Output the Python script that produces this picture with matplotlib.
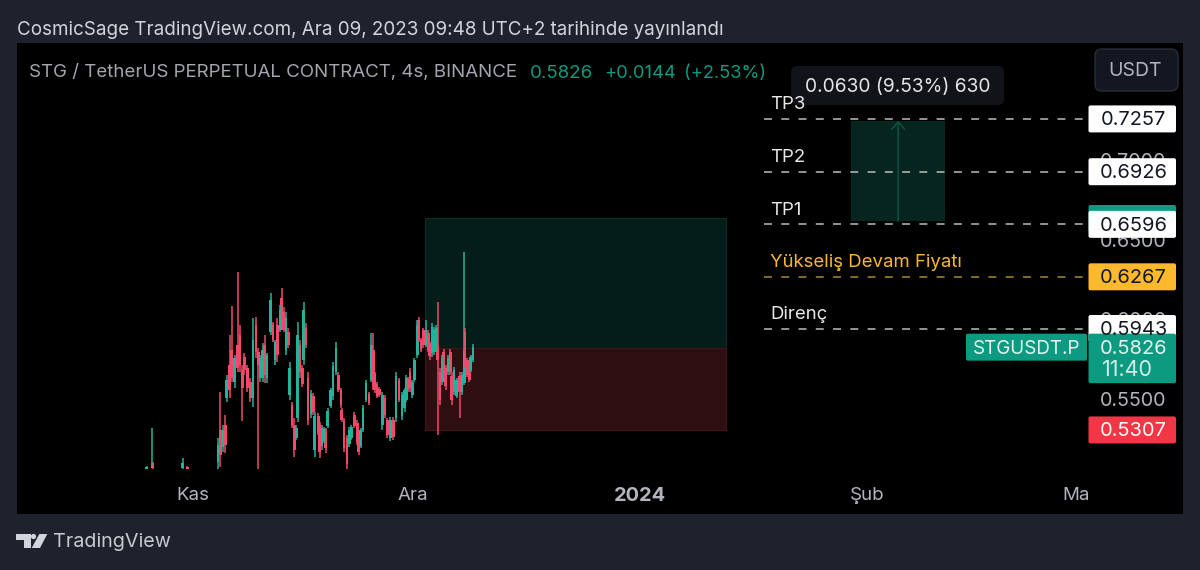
import matplotlib
matplotlib.use('Agg')
import matplotlib.pyplot as plt
from matplotlib.patches import FancyBboxPatch, Polygon, Circle, Rectangle

plt.rcParams['font.family'] = ['Inter', 'DejaVu Sans']

BG = '#1e222d'
GREEN = '#22b39a'
RED = '#f5476a'
TEAL = '#0c9a80'
LABEL_RED = '#f23645'
YELLOW = '#fdb92e'
AXIS_GREY = '#b2b5be'

# Candles: days counted from 1 Nov 2023, then prices
days = [-6.3, -5.6, -5.5, -1.4, -0.8,
        3.4, 3.7, 4.1, 4.4, 4.6, 5.0, 5.3, 5.7, 6.1, 6.4, 6.7, 7.0, 7.4, 7.8, 8.2, 8.6, 8.9, 9.2, 9.5, 9.8,
        10.1, 10.6, 10.9, 11.2, 11.5, 11.9, 12.1, 12.4, 12.7, 13.0, 13.2, 13.5, 13.8, 14.1, 14.3, 14.6, 14.9, 15.1, 15.4, 15.7,
        16.1, 16.4, 16.6, 17.1, 17.3, 17.6, 17.9, 18.1, 18.4, 18.8, 19.1, 19.5, 19.8, 20.2, 20.3, 20.6, 21.0, 21.3, 21.6, 22.0,
        22.4, 22.6, 22.9, 23.2, 23.6, 24.0, 24.3, 24.6, 24.8, 25.1, 25.4, 25.8, 26.2, 26.5, 26.9, 27.3, 27.7, 28.1, 28.5, 28.9,
        29.1, 29.3, 29.6, 29.9, 30.2, 30.6, 30.8, 31.1, 31.4, 31.8, 32.1, 32.3, 32.6, 32.9, 33.2, 33.4, 33.7, 34.0, 34.2, 34.5,
        34.8, 35.1, 35.3, 35.6, 36.0, 36.4, 36.7, 37.0, 37.1, 37.4, 37.7, 37.9, 38.2]
opens = [.5062, .5069, .5100, .5069, .5075,
         .5106, .5307, .5200, .5338, .5507, .5714, .5809, .5608, .5840, .5903, .5683, .5765, .5696, .5608, .5507, .5965, .5796, .5633, .5633, .5840,
         .5633, .5921, .5965, .5746, .5965, .5934, .6134, .6047, .5809, .5921, .5526, .5464, .5338, .5257, .5382, .5840, .5696, .5746, .5946, .5633,
         .5407, .5520, .5181, .5395, .5338, .5207, .5238, .5301, .5332, .5457, .5520, .5671, .5652, .5558, .5432, .5363, .5257, .5219, .5257, .5401,
         .5351, .5244, .5207, .5307, .5495, .5533, .5620, .5809, .5658, .5595, .5564, .5338, .5507, .5370, .5257, .5370, .5382, .5620, .5395, .5445,
         .5495, .5627, .5671, .5526, .5620, .5777, .5997, .5871, .5934, .5840, .5915, .5846, .5790, .5796, .5821, .5840, .5671, .5608, .5796, .5696,
         .5671, .5796, .5645, .5545, .5520, .5645, .5545, .5602, .5921, .5746, .5683, .5683, .5746]
highs = [.5081, .5319, .5106, .5131, .5081,
         .5257, .5545, .5338, .5401, .5652, .5903, .6084, .5777, .6298, .5965, .5714, .5790, .5714, .5633, .6009, .6015, .5821, .5777, .5852, .5903,
         .5790, .6166, .5984, .5871, .6009, .6091, .6197, .6078, .6047, .5946, .5733, .5483, .5382, .5338, .5984, .5871, .5714, .6109, .5978, .5671,
         .5558, .5539, .5420, .5413, .5357, .5338, .5326, .5319, .5445, .5570, .5733, .5859, .5671, .5570, .5445, .5382, .5276, .5326, .5338, .5420,
         .5370, .5257, .5319, .5464, .5620, .5545, .5915, .5915, .5671, .5608, .5576, .5545, .5526, .5382, .5388, .5388, .5671, .5633, .5545, .5570,
         .5652, .5639, .5696, .5620, .5758, .5997, .6015, .5884, .5946, .5997, .5934, .5859, .5978, .5953, .5965, .6109, .5696, .5777, .5815, .5714,
         .5777, .5815, .5671, .5702, .5633, .5671, .5671, .6423, .5946, .5758, .5696, .5777, .5846]
lows = [.5062, .5069, .5062, .5062, .5062,
        .5062, .5075, .5169, .5163, .5483, .5507, .5608, .5570, .5671, .5671, .5363, .5652, .5545, .5483, .5451, .5758, .5062, .5608, .5608, .5602,
        .5602, .5903, .5859, .5714, .5733, .5921, .5984, .5921, .5777, .5821, .5495, .5319, .5138, .5244, .5357, .5633, .5576, .5714, .5821, .5338,
        .5382, .5401, .5138, .5276, .5131, .5181, .5225, .5163, .5319, .5445, .5495, .5652, .5545, .5445, .5357, .5169, .5062, .5200, .5244, .5319,
        .5213, .5150, .5194, .5294, .5483, .5464, .5608, .5558, .5539, .5507, .5514, .5307, .5382, .5257, .5238, .5244, .5357, .5483, .5370, .5420,
        .5483, .5545, .5545, .5507, .5608, .5758, .5859, .5796, .5821, .5827, .5796, .5746, .5765, .5777, .5796, .5276, .5464, .5589, .5652, .5558,
        .5652, .5652, .5464, .5526, .5507, .5382, .5526, .5589, .5696, .5639, .5608, .5671, .5733]
closes = [.5075, .5081, .5069, .5100, .5062,
          .5213, .5150, .5307, .5213, .5620, .5558, .5633, .5758, .5696, .5714, .5570, .5683, .5570, .5507, .5871, .5796, .5714, .5758, .5809, .5652,
          .5777, .6122, .5871, .5859, .5777, .6059, .5997, .5934, .6009, .5840, .5696, .5338, .5181, .5319, .5903, .5671, .5595, .6059, .5840, .5370,
          .5533, .5420, .5395, .5294, .5169, .5319, .5313, .5194, .5426, .5558, .5708, .5821, .5558, .5464, .5370, .5194, .5094, .5307, .5326, .5332,
          .5232, .5169, .5307, .5445, .5602, .5476, .5840, .5583, .5558, .5520, .5526, .5526, .5401, .5276, .5370, .5263, .5645, .5495, .5526, .5558,
          .5633, .5558, .5570, .5608, .5746, .5965, .5871, .5809, .5840, .5934, .5809, .5771, .5953, .5934, .5946, .5746, .5495, .5758, .5671, .5583,
          .5758, .5671, .5495, .5683, .5620, .5545, .5652, .5809, .5714, .5652, .5620, .5765, .5826]

# Horizontal levels and their labels
level_prices = [0.7257, 0.6926, 0.6596, 0.6267, 0.5943]
level_names = ['TP3', 'TP2', 'TP1', 'Yükseliş Devam Fiyatı', 'Direnç']
last_price = 0.5826
stop_price = 0.5307

# Long position box
entry_price = 0.5821
target_price = 0.6636
box_days = (31.65, 72.7)

# Measure tool
measure_low = 0.6615
measure_high = 0.7245
measure_days = (89.8, 102.6)

price_ticks = [0.55, 0.60, 0.65, 0.70]
date_ticks = [0, 30, 61, 92, 121]
date_labels = ['Kas', 'Ara', '2024', 'Şub', 'Mar']

fig = plt.figure(figsize=(12, 5.7), dpi=100, facecolor=BG)
ax = fig.add_axes([17 / 1200, 56 / 570, 1166 / 1200, 471 / 570], facecolor='black')
ax.set_xlim(-24.01, 135.06)
ax.set_ylim(0.4780, 0.7733)
for spine in ax.spines.values():
    spine.set_visible(False)

# position boxes sit under the candles
ax.add_patch(Rectangle((box_days[0], entry_price), box_days[1] - box_days[0], target_price - entry_price,
                       fc='#041d18', ec='#0a2f28', lw=0.8))
ax.add_patch(Rectangle((box_days[0], stop_price), box_days[1] - box_days[0], entry_price - stop_price,
                       fc='#2e0e10', ec='#421518', lw=0.8))
ax.add_patch(Rectangle((measure_days[0], measure_low), measure_days[1] - measure_days[0], measure_high - measure_low,
                       fc='#05251e', ec='none'))
mid_day = sum(measure_days) / 2
ax.annotate('', xy=(mid_day, measure_high), xytext=(mid_day, measure_low),
            arrowprops=dict(arrowstyle='->,head_length=0.5,head_width=0.45', color='#0f4f42', lw=1.2, shrinkA=0, shrinkB=0))

# candles
for d, o, h, l, c in zip(days, opens, highs, lows, closes):
    col = GREEN if c >= o else RED
    ax.vlines(d, l, h, color=col, lw=1.1)
    ax.bar(d, abs(c - o), bottom=min(o, c), width=0.38, color=col, lw=0)

# levels
for price, name in zip(level_prices, level_names):
    col = '#a58a35' if name.startswith('Yük') else '#bdbdbd'
    ax.plot([77.9, 122.1], [price, price], color=col, lw=1.1, dashes=(5.2, 6.1))

ax.set_yticks(price_ticks, [f'{p:.4f}' for p in price_ticks])
ax.yaxis.tick_right()
ax.tick_params(axis='y', length=0, pad=-59.5, labelsize=14.2, labelcolor=AXIS_GREY)
ax.set_xticks(date_ticks, date_labels)
ax.tick_params(axis='x', length=0, pad=-19.5, labelsize=13.5, labelcolor=AXIS_GREY)
ax.get_xticklabels()[2].set_fontweight('bold')
ax.get_xticklabels()[2].set_fontsize(14.4)

# labels, header and footer are laid out in pixels on an overlay
ui = fig.add_axes([0, 0, 1, 1], facecolor='none')
ui.set_xlim(0, 1200)
ui.set_ylim(570, 0)
ui.axis('off')


def price_y(price):
    return 570 - ax.transData.transform((0, price))[1]


def box(x0, y0, x1, y1, fc, ec='none', r=2):
    ui.add_patch(FancyBboxPatch((x0, y0), x1 - x0, y1 - y0, boxstyle=f'round,pad=0,rounding_size={r}',
                                fc=fc, ec=ec, lw=1))


def price_label(price, fc, tc):
    y = price_y(price)
    box(1088.5, y - 13.5, 1176, y + 13.5, fc)
    ui.text(1133.5, y + 1.5, f'{price:.4f}', color=tc, fontsize=14.4, ha='center', va='center')


# the time scale stops where the price scale starts
ui.add_patch(Rectangle((1088, 478), 95, 36, fc='black', ec='none'))

ui.text(17, 30, 'CosmicSage TradingView.com, Ara 09, 2023 09:48 UTC+2 tarihinde yayınlandı',
        color='#d1d4dc', fontsize=13.52, va='center')
ui.text(29, 73, 'STG / TetherUS PERPETUAL CONTRACT, 4s, BINANCE', color='#a3a6ad', fontsize=13.5, va='center')
ui.text(530, 73, f'{last_price:.4f}', color=TEAL, fontsize=13.5, va='center')
ui.text(604, 73, '+0.0144', color=TEAL, fontsize=13.2, va='center')
ui.text(684, 73, '(+2.53%)', color=TEAL, fontsize=13.2, va='center')

box(1095, 49, 1178, 91, '#131722', '#2a2e39', r=7)
ui.text(1134.5, 71, 'USDT', color=AXIS_GREY, fontsize=14, ha='center', va='center')

# level names
for price, name in zip(level_prices, level_names):
    col = '#f5b82e' if name.startswith('Yük') else '#e8e8e8'
    ui.text(770, price_y(price) - 14, name, color=col, fontsize=13.4, va='center')

box(791, 66, 1004, 105, '#111318', r=6)
ui.text(805, 87, f'{measure_high - measure_low:.4f} (9.53%) 630', color='#e4e5e8', fontsize=13.8, va='center')

# price scale labels, later ones cover earlier ones
box(1088.5, 205, 1176, 232, TEAL)
price_label(0.7257, 'white', '#131722')
price_label(0.6926, 'white', '#131722')
price_label(0.6596, 'white', '#131722')
price_label(0.6267, YELLOW, '#131722')
price_label(0.5943, 'white', '#131722')

y_last = price_y(last_price)
box(966, y_last - 13.5, 1087, y_last + 13.5, TEAL)
ui.text(1026.5, y_last + 1.5, 'STGUSDT.P', color='#e6f5f1', fontsize=13.6, ha='center', va='center')
box(1088.5, y_last - 13.5, 1176, y_last + 36, TEAL)
ui.text(1133.5, y_last + 1.5, f'{last_price:.4f}', color='#e6f5f1', fontsize=14.4, ha='center', va='center')
ui.text(1102, y_last + 23, '11:40', color='#cfeee7', fontsize=15.5, va='center')

price_label(stop_price, LABEL_RED, 'white')

# TradingView mark
logo = '#d1d4dc'
ui.add_patch(Polygon([(16, 534), (31, 534), (31, 548), (24, 548), (24, 540), (16, 540)], fc=logo, ec='none'))
ui.add_patch(Circle((33.5, 536.5), 2.6, fc=logo, ec='none'))
ui.add_patch(Polygon([(39.3, 534), (47.3, 534), (40, 548), (31.7, 548)], fc=logo, ec='none'))
ui.text(53, 542, 'TradingView', color='#c8cad1', fontsize=14.2, va='center')

fig.savefig('out.png', dpi=100, facecolor=BG)
